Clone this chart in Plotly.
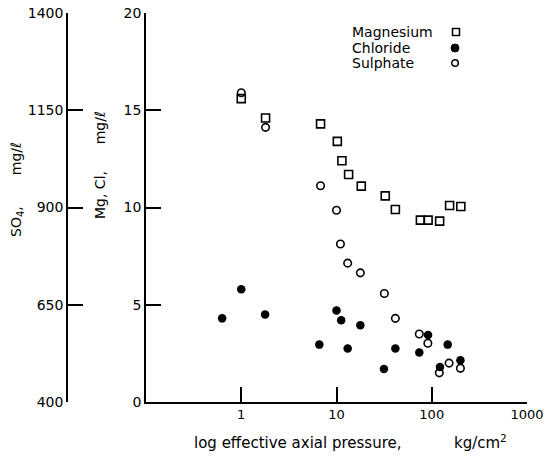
import plotly.graph_objects as go

# ---- data ----
mg_pressure = [1, 1.8, 6.8, 10.2, 11.4, 13.4, 18.2, 32.5, 41.5, 76, 91.5, 121, 154, 202]
mg_conc = [15.6, 14.6, 14.3, 13.4, 12.4, 11.7, 11.1, 10.6, 9.9, 9.35, 9.35, 9.3, 10.1, 10.05]

cl_pressure = [0.63, 1, 1.78, 6.6, 10, 11.2, 13.1, 17.8, 31.5, 41.5, 74, 91.5, 122, 147, 200]
cl_conc = [4.3, 5.8, 4.5, 2.95, 4.7, 4.2, 2.75, 3.95, 1.7, 2.75, 2.55, 3.45, 1.8, 2.95, 2.15]

so4_pressure = [1, 1.8, 6.8, 10, 11, 13.1, 17.8, 31.8, 41.5, 74, 91, 120, 152, 200]
so4_conc = [1195, 1106, 956, 893, 806, 757, 732, 679, 615, 575, 551, 475, 500, 487]

x_ticks = [1, 10, 100, 1000]
x_ticktext = ["1", "10", "100", "1000"]
mgcl_ticks = [0, 5, 10, 15, 20]
so4_ticks = [400, 650, 900, 1150, 1400]

FONT = "DejaVu Sans"
W, H = 546, 461
ML, MR, MT, MB = 0, 19, 13, 59
PW = W - ML - MR
PH = H - MT - MB


def px_x(p):
    return (p - ML) / PW


def px_y(p):
    return (H - MB - p) / PH


fig = go.Figure()
fig.add_trace(go.Scatter(
    x=mg_pressure, y=mg_conc, mode="markers", name="Magnesium",
    marker=dict(symbol="square-open", size=8, color="black", line=dict(width=1.6)),
))
fig.add_trace(go.Scatter(
    x=cl_pressure, y=cl_conc, mode="markers", name="Chloride",
    marker=dict(symbol="circle", size=8.5, color="black"),
))
fig.add_trace(go.Scatter(
    x=so4_pressure, y=so4_conc, mode="markers", name="Sulphate", yaxis="y2",
    marker=dict(symbol="circle-open", size=7.5, color="black", line=dict(width=1.6)),
))

axis_common = dict(
    showgrid=False, zeroline=False, showline=True, linecolor="black", linewidth=1.5,
    ticks="inside", ticklen=15, tickwidth=1.5, tickcolor="black",
)
yfont = dict(family=FONT, size=14, color="black")
xfont = dict(family=FONT, size=13, color="black")

fig.update_layout(
    width=W, height=H,
    margin=dict(l=ML, r=MR, t=MT, b=MB),
    plot_bgcolor="white", paper_bgcolor="white",
    showlegend=False,
    xaxis=dict(
        type="log", range=[-1, 3], domain=[px_x(146), 1],
        tickvals=x_ticks, ticktext=x_ticktext, tickfont=xfont,
        ticklabeloverflow="allow", **axis_common,
    ),
    yaxis=dict(range=[0, 20], tickvals=mgcl_ticks, anchor="x", tickfont=yfont, **axis_common),
    yaxis2=dict(
        range=[400, 1400], tickvals=so4_ticks, overlaying="y", anchor="free",
        position=px_x(67), side="left", tickfont=yfont, **axis_common,
    ),
)

ann_font = dict(family=FONT, size=14, color="black")
sp = "\u00a0"
annotations = [
    dict(text="log effective axial pressure," + sp * 11 + "kg/cm<sup>2</sup>",
         x=px_x(350), y=px_y(442), xref="paper", yref="paper", showarrow=False,
         xanchor="center", yanchor="middle", font=dict(family=FONT, size=15, color="black")),
    dict(text="SO<sub>4</sub>," + sp * 7 + "mg/\u2113",
         x=px_x(17), y=px_y(190), xref="paper", yref="paper", showarrow=False,
         textangle=-90, xanchor="center", yanchor="middle", font=ann_font),
    dict(text="Mg, Cl," + sp * 6 + "mg/\u2113",
         x=px_x(100), y=px_y(165), xref="paper", yref="paper", showarrow=False,
         textangle=-90, xanchor="center", yanchor="middle", font=ann_font),
]
legend_items = [("Magnesium", 32), ("Chloride", 48), ("Sulphate", 63)]
for name, py in legend_items:
    annotations.append(dict(text=name, x=px_x(350), y=px_y(py), xref="paper", yref="paper",
                            showarrow=False, xanchor="left", yanchor="middle",
                            font=dict(family=FONT, size=14, color="black")))
fig.update_layout(annotations=annotations)

# legend symbols (pixel-sized shapes)
shapes = [
    dict(type="rect", xref="paper", yref="paper", xsizemode="pixel", ysizemode="pixel",
         xanchor=px_x(456), yanchor=px_y(32), x0=-3.5, x1=3.5, y0=-3.5, y1=3.5,
         line=dict(color="black", width=1.5), fillcolor="white"),
    dict(type="circle", xref="paper", yref="paper", xsizemode="pixel", ysizemode="pixel",
         xanchor=px_x(455), yanchor=px_y(48), x0=-4, x1=4, y0=-4, y1=4,
         line=dict(color="black", width=1), fillcolor="black"),
    dict(type="circle", xref="paper", yref="paper", xsizemode="pixel", ysizemode="pixel",
         xanchor=px_x(455), yanchor=px_y(63), x0=-3.3, x1=3.3, y0=-3.3, y1=3.3,
         line=dict(color="black", width=1.5), fillcolor="white"),
]
fig.update_layout(shapes=shapes)

fig.write_html("out.html", config={"displayModeBar": False},
               post_script="document.body.style.margin='0';")
